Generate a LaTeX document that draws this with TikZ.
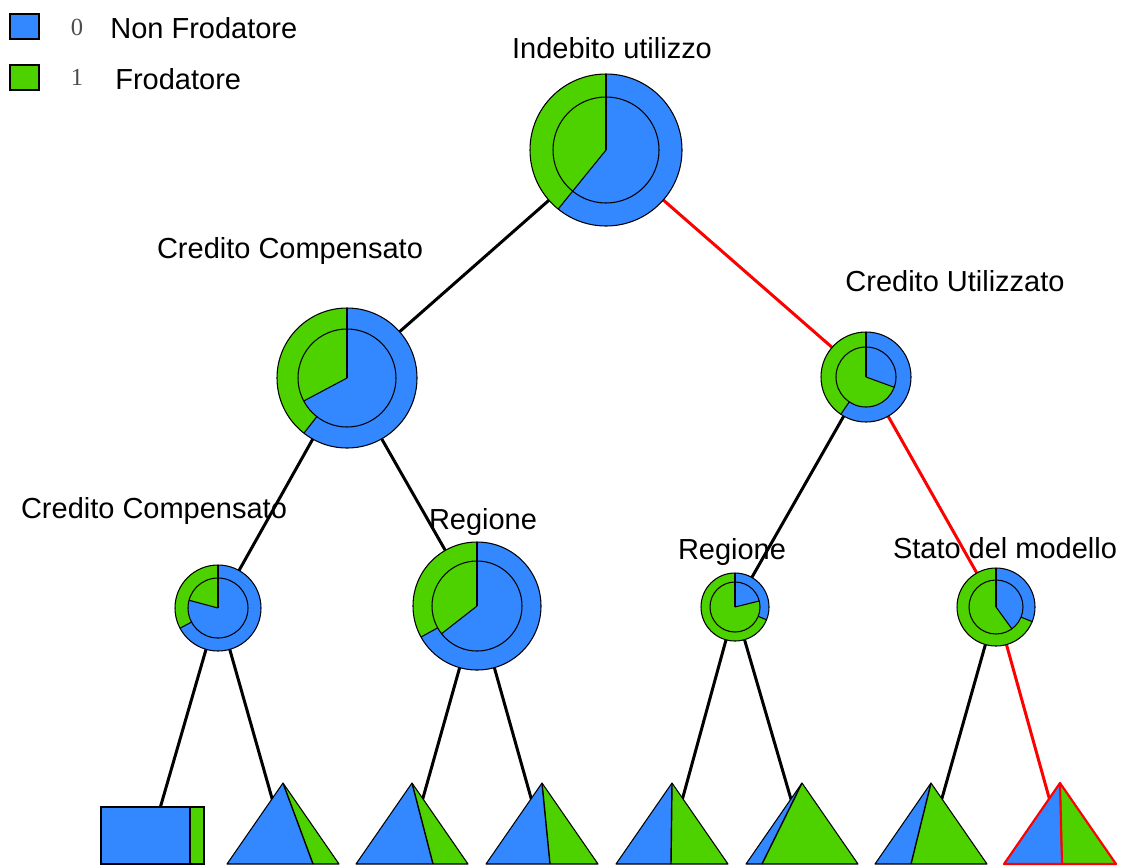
\documentclass[tikz,border=0pt]{standalone}
\usepackage{fontspec}
\setmainfont{Liberation Sans}
\newfontfamily\digitfont{Liberation Serif}
\usetikzlibrary{calc}

\definecolor{nonfrod}{RGB}{51,136,255}
\definecolor{frod}{RGB}{77,210,0}
\definecolor{hit}{RGB}{255,0,0}

\tikzset{
  edge/.style={line width=1.7pt, black},
  hitedge/.style={line width=1.7pt, hit},
  pieline/.style={line width=0.6pt, black},
  txt/.style={font=\fontsize{16.5}{20}\selectfont, anchor=base, inner sep=0pt},
  legbox/.style={draw=black, line width=0.6pt, minimum width=0.58cm, minimum height=0.5cm, inner sep=0pt}
}

% two-ring pie: center, outer r, inner r, outer split angle, inner split angle
\newcommand{\pienode}[5]{
  \fill[nonfrod] (#1) circle (#2);
  \fill[frod] (#1) -- ++(90:#2) arc[start angle=90, end angle=#4, radius=#2] -- cycle;
  \fill[nonfrod] (#1) circle (#3);
  \fill[frod] (#1) -- ++(90:#3) arc[start angle=90, end angle=#5, radius=#3] -- cycle;
  \draw[pieline] (#1) circle (#2) (#1) circle (#3);
  \draw[pieline] (#1) -- ++(90:#2);
  \draw[pieline] (#1) -- ++(#5:#3);
  \draw[pieline] ($(#1)+(#4:#3)$) -- ($(#1)+(#4:#2)$);
}

% leaf triangle: outline colour, apex x, split x on the base
\newcommand{\leaftri}[3]{
  \fill[nonfrod] (#2,-783) -- (#2-56,-864) -- (#3,-864) -- cycle;
  \fill[frod] (#2,-783) -- (#3,-864) -- (#2+56,-864) -- cycle;
  \draw[#1, line width=0.8pt] (#2,-783) -- (#3,-864);
  \draw[#1, line width=0.6pt, line join=round] (#2,-783) -- (#2-56,-864) -- (#2+56,-864) -- cycle;
}

\begin{document}
\begin{tikzpicture}[x=0.02cm, y=0.02cm]
\useasboundingbox (0,0) rectangle (1125,-866);

\coordinate (root) at (606,-150);
\coordinate (cc) at (347,-378);
\coordinate (cu) at (866,-377);
\coordinate (ccl) at (218,-608);
\coordinate (reg) at (477,-606);
\coordinate (regr) at (735,-607);
\coordinate (stato) at (996,-607);
\coordinate (l1) at (152,-836);
\coordinate (l2) at (283,-837);
\coordinate (l3) at (412,-837);
\coordinate (l4) at (542,-837);
\coordinate (l5) at (672,-837);
\coordinate (l6) at (802,-837);
\coordinate (l7) at (931,-837);
\coordinate (l8) at (1060,-837);

\draw[edge] (root) -- (cc);
\draw[hitedge] (root) -- (cu);
\draw[edge] (cc) -- (ccl);
\draw[edge] (cc) -- (reg);
\draw[edge] (cu) -- (regr);
\draw[hitedge] (cu) -- (stato);
\draw[edge] (ccl) -- (l1);
\draw[edge] (ccl) -- (l2);
\draw[edge] (reg) -- (l3);
\draw[edge] (reg) -- (l4);
\draw[edge] (regr) -- (l5);
\draw[edge] (regr) -- (l6);
\draw[edge] (stato) -- (l7);
\draw[hitedge] (stato) -- (l8);

\pienode{root}{76}{53}{231}{231}
\pienode{cc}{70}{49}{232}{208}
\pienode{cu}{45}{30}{236}{340}
\pienode{ccl}{43}{30}{208}{165}
\pienode{reg}{64}{45}{209}{218}
\pienode{regr}{34}{25}{338}{374}
\pienode{stato}{39}{27}{338}{306}

% leaves
\fill[nonfrod] (101,-807) rectangle (190,-864);
\fill[frod] (190,-807) rectangle (204,-864);
\draw[line width=1.2pt] (190,-807) -- (190,-864);
\draw[pieline] (101,-807) rectangle (204,-864);
\leaftri{black}{283}{313}
\leaftri{black}{412}{433}
\leaftri{black}{542}{550}
\leaftri{black}{672}{671}
\leaftri{black}{802}{762}
\leaftri{black}{931}{911}
\leaftri{hit}{1060}{1062}
\draw[hit, line width=1.2pt, line join=round] (1060,-783) -- (1004,-864) -- (1116,-864) -- cycle;
\draw[hit, line width=1.2pt] (1060,-783) -- (1062,-864);

% split labels
\node[txt] (troot) at (612,-58) {Indebito utilizzo};
\node[txt] (tcc) at (290,-258) {Credito Compensato};
\node[txt] (tcu) at (955,-291) {Credito Utilizzato};
\node[txt] (tccl) at (154,-518) {Credito Compensato};
\node[txt] (treg) at (483,-529) {Regione};
\node[txt] (tregr) at (732,-559) {Regione};
\node[txt] (tstato) at (1005,-558) {Stato del modello};

% legend
\node[legbox, fill=nonfrod] (k0) at (24.5,-26.5) {};
\node[legbox, fill=frod] (k1) at (24.5,-77.5) {};
\node[anchor=base, inner sep=0pt, font=\digitfont\fontsize{14}{16}\selectfont, text=black!70] (d0) at (77,-35) {0};
\node[anchor=base, inner sep=0pt, font=\digitfont\fontsize{14}{16}\selectfont, text=black!70] (d1) at (77,-85) {1};
\node[txt, anchor=base west] (n0) at (110,-38) {Non Frodatore};
\node[txt, anchor=base west] (n1) at (115,-89) {Frodatore};
\end{tikzpicture}
\end{document}
